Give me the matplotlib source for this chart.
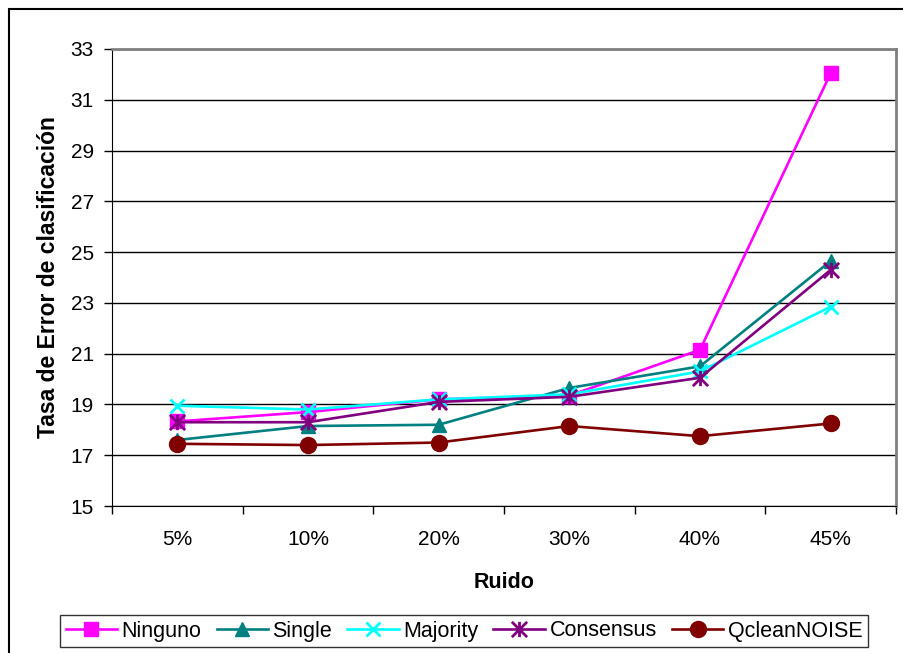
import matplotlib.pyplot as plt
from matplotlib.path import Path
from matplotlib.patches import Rectangle
import numpy as np

plt.rcParams['font.family'] = ['Liberation Sans', 'DejaVu Sans']

ruido = ['5%', '10%', '20%', '30%', '40%', '45%']
ninguno = [18.33, 18.7, 19.2, 19.35, 21.15, 32.05]
single = [17.6, 18.15, 18.2, 19.65, 20.5, 24.65]
majority = [18.95, 18.8, 19.2, 19.4, 20.3, 22.85]
consensus = [18.3, 18.3, 19.1, 19.3, 20.05, 24.3]
qclean = [17.45, 17.4, 17.5, 18.15, 17.75, 18.25]

# asterisco tipo Excel: vertical + dos diagonales
star = Path([(0, -1), (0, 1), (-1, -1), (1, 1), (-1, 1), (1, -1)],
            [Path.MOVETO, Path.LINETO] * 3)

series = [
    ('Ninguno', ninguno, '#FF00FF', 's', 10.5),
    ('Single', single, '#008080', '^', 10.5),
    ('Majority', majority, '#00FFFF', 'x', 10.5),
    ('Consensus', consensus, '#800080', star, 11),
    ('QcleanNOISE', qclean, '#800000', 'o', 11.5),
]

fig = plt.figure(figsize=(9.04, 6.53), dpi=100)
ax = fig.add_axes([112/904, 147/653, 784/904, 457/653])

x = np.arange(len(ruido)) + 0.5
for name, vals, col, mk, ms in series:
    ax.plot(x, vals, color=col, lw=1.9, marker=mk, ms=ms,
            mew=2 if (mk == 'x' or mk is star) else 1,
            mfc=col, mec=col, label=name)

ax.set_xlim(0, 6)
ax.set_ylim(15, 33)
ax.set_yticks(np.arange(15, 34, 2))
ax.yaxis.grid(True, color='black', lw=1)
ax.set_axisbelow(True)

ax.set_xticks(x)
ax.set_xticklabels(ruido)
ax.set_xticks(np.arange(0, 7), minor=True)
ax.tick_params(axis='x', which='major', length=0, pad=17, labelsize=15)
ax.tick_params(axis='x', which='minor', length=6, width=1, direction='out')
ax.tick_params(axis='y', length=6, width=1, direction='out', pad=7, labelsize=15)

for s in ('left', 'bottom'):
    ax.spines[s].set_color('black')
for s in ('top', 'right'):
    ax.spines[s].set_color('#808080')
    ax.spines[s].set_linewidth(2)

ax.set_xlabel('Ruido', fontsize=15.5, fontweight='bold', labelpad=17)
ax.set_ylabel('Tasa de Error de clasificación', fontsize=16.5, fontweight='bold', labelpad=8)

leg = fig.legend(loc='center', bbox_to_anchor=(464/904, 1 - 631/653), ncol=5,
                 fontsize=15.5, frameon=True, fancybox=False, edgecolor='black',
                 handlelength=2.4, handletextpad=0.2, columnspacing=0.7,
                 borderpad=0.25, borderaxespad=0)
leg.get_frame().set_linewidth(1)

# marco exterior del grafico
fig.patches.append(Rectangle((9/904, -0.05), 1.0, 1 - 9/653 + 0.05, transform=fig.transFigure,
                             fill=False, edgecolor='black', lw=1.5))

fig.savefig('out.png', dpi=100)
